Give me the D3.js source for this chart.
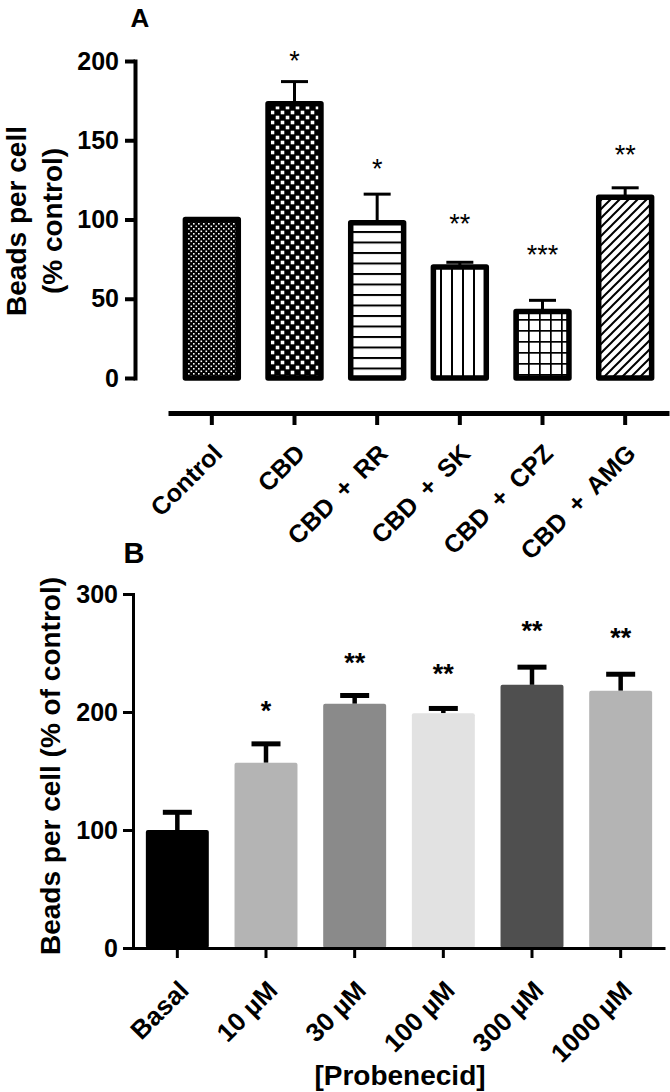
<!DOCTYPE html>
<html><head><meta charset="utf-8">
<script src="https://cdn.jsdelivr.net/npm/d3@7"></script>
<style>
body{margin:0;background:#fff}
svg{display:block}
text{font-family:"Liberation Sans",Arial,sans-serif;fill:#000}
</style>
</head><body>
<svg id="chart" width="670" height="1092"></svg>
<script>
// ---------- Data ----------
const categoriesA = ["Control", "CBD", "CBD + RR", "CBD + SK", "CBD + CPZ", "CBD + AMG"];
const meansA = [100, 173, 98, 70, 42, 114];
const semA = [0, 14, 18, 3, 7, 6];
const sigA = ["", "*", "*", "**", "***", "**"];
const sigLevelA = [null, 204, 136, 101, 82, 145];
const ticksA = [0, 50, 100, 150, 200];

const categoriesB = ["Basal", "10 µM", "30 µM", "100 µM", "300 µM", "1000 µM"];
const meansB = [100, 157, 207, 199, 223, 218];
const semB = [15, 16, 7, 4, 15, 14];
const sigB = ["", "*", "**", "**", "**", "**"];
const sigLevelB = [null, 206, 247, 238, 274, 268];
const ticksB = [0, 100, 200, 300];

// ---------- Styles ----------
const patternIdsA = ["pFine", "pChecker", "pHLines", "pVLines", "pGrid", "pDiag"];
const fillsB = ["#000000", "#b4b4b4", "#8a8a8a", "#e2e2e2", "#4f4f4f", "#b4b4b4"];

const svg = d3.select("#chart");
svg.append("rect").attr("width", 670).attr("height", 1092).attr("fill", "#fff");
const defs = svg.append("defs");

function pat(id, w, h) {
  return defs.append("pattern").attr("id", id).attr("patternUnits", "userSpaceOnUse")
    .attr("width", w).attr("height", h);
}
// fine checker
let p = pat("pFine", 5, 5);
p.append("rect").attr("width", 5).attr("height", 5).attr("fill", "#000");
p.append("rect").attr("x", 0.5).attr("y", 0.5).attr("width", 1.6).attr("height", 1.6).attr("fill", "#fff");
p.append("rect").attr("x", 3.0).attr("y", 3.0).attr("width", 1.6).attr("height", 1.6).attr("fill", "#fff");
// coarse checker
p = pat("pChecker", 10, 10);
p.append("rect").attr("width", 10).attr("height", 10).attr("fill", "#000");
p.append("rect").attr("x", 0.7).attr("y", 0.7).attr("width", 3.6).attr("height", 3.6).attr("fill", "#fff");
p.append("rect").attr("x", 5.7).attr("y", 5.7).attr("width", 3.6).attr("height", 3.6).attr("fill", "#fff");
// horizontal lines
p = pat("pHLines", 10, 10.5);
p.append("rect").attr("width", 10).attr("height", 10.5).attr("fill", "#fff");
p.append("rect").attr("y", 0).attr("width", 10).attr("height", 2).attr("fill", "#000");
// vertical lines
p = pat("pVLines", 11, 10);
p.append("rect").attr("width", 11).attr("height", 10).attr("fill", "#fff");
p.append("rect").attr("x", 0).attr("width", 2).attr("height", 10).attr("fill", "#000");
// grid
p = pat("pGrid", 11, 11);
p.append("rect").attr("width", 11).attr("height", 11).attr("fill", "#fff");
p.append("rect").attr("width", 1.7).attr("height", 11).attr("fill", "#000");
p.append("rect").attr("width", 11).attr("height", 1.7).attr("fill", "#000");
// diagonal
p = pat("pDiag", 9, 9);
p.append("rect").attr("width", 9).attr("height", 9).attr("fill", "#fff");
p.append("path").attr("d", "M0,9L9,0M-2,2L2,-2M7,11L11,7").attr("stroke", "#000").attr("stroke-width", 2);

const FONT_TICK = 25;

// ---------- Panel A ----------
const yA = d3.scaleLinear().domain([0, 200]).range([378, 61]);
const xA = d3.scaleBand().domain(categoriesA).range([170.5, 666.5]).paddingInner(0.36).paddingOuter(0.18);

const gA = svg.append("g");
// y axis
const yAxA = gA.append("g").attr("transform", "translate(135,0)")
  .call(d3.axisLeft(yA).tickValues(ticksA).tickSize(10).tickSizeOuter(0).tickPadding(6));
yAxA.select(".domain").attr("stroke-width", 4).attr("stroke-linecap", "square");
yAxA.selectAll(".tick line").attr("stroke-width", 4);
yAxA.selectAll("text").attr("font-size", FONT_TICK).attr("font-weight", "bold").attr("font-family", null);

// x axis (detached)
const xAxA = gA.append("g").attr("transform", "translate(0,413)")
  .call(d3.axisBottom(xA).tickSize(12).tickSizeOuter(0));
xAxA.select(".domain").attr("stroke-width", 5).attr("stroke-linecap", "square");
xAxA.selectAll(".tick line").attr("stroke-width", 4);
xAxA.selectAll("text").attr("font-size", 25).attr("font-weight", "bold").attr("font-family", null)
  .style("word-spacing", "5px")
  .attr("x", 0).attr("y", 0).attr("dy", null)
  .attr("transform", "translate(12,42) rotate(-45)").style("text-anchor", "end");

// error bars A
categoriesA.forEach((c, i) => {
  if (!semA[i]) return;
  const cx = xA(c) + xA.bandwidth() / 2;
  gA.append("line").attr("x1", cx).attr("x2", cx).attr("y1", yA(meansA[i])).attr("y2", yA(meansA[i] + semA[i]))
    .attr("stroke", "#000").attr("stroke-width", 3);
  gA.append("line").attr("x1", cx - 13.5).attr("x2", cx + 13.5)
    .attr("y1", yA(meansA[i] + semA[i])).attr("y2", yA(meansA[i] + semA[i]))
    .attr("stroke", "#000").attr("stroke-width", 3);
});
// bars A
gA.selectAll("rect.barA").data(categoriesA).join("rect").attr("class", "barA")
  .attr("x", d => xA(d)).attr("width", xA.bandwidth())
  .attr("y", (d, i) => yA(meansA[i])).attr("height", (d, i) => yA(0) - yA(meansA[i]))
  .attr("fill", (d, i) => `url(#${patternIdsA[i]})`)
  .attr("stroke", "#000").attr("stroke-width", 5.5).attr("stroke-linejoin", "round");
// significance A
const FS_STAR = 27;
categoriesA.forEach((c, i) => {
  if (!sigA[i]) return;
  gA.append("text").attr("x", xA(c) + xA.bandwidth() / 2).attr("y", yA(sigLevelA[i]) + 0.575 * FS_STAR)
    .attr("text-anchor", "middle").attr("font-size", FS_STAR).text(sigA[i]);
});
// labels A
gA.append("text").attr("x", 140).attr("y", 27).attr("text-anchor", "middle")
  .attr("font-size", 26).attr("font-weight", "bold").text("A");
const ylabA = gA.append("text").attr("transform", "translate(0,221) rotate(-90)")
  .attr("text-anchor", "middle").attr("font-size", 28).attr("font-weight", "bold");
ylabA.append("tspan").attr("x", 0).attr("y", 26).text("Beads per cell");
ylabA.append("tspan").attr("x", 0).attr("y", 62).text("(% control)");

// ---------- Panel B ----------
const yB = d3.scaleLinear().domain([0, 300]).range([948, 594]);
const xB = d3.scaleBand().domain(categoriesB).range([133, 665]).paddingInner(0.29).paddingOuter(0.145);
const gB = svg.append("g");

// error bars B
categoriesB.forEach((c, i) => {
  const cx = xB(c) + xB.bandwidth() / 2;
  gB.append("line").attr("x1", cx).attr("x2", cx).attr("y1", yB(meansB[i])).attr("y2", yB(meansB[i] + semB[i]))
    .attr("stroke", "#000").attr("stroke-width", 4.5);
  gB.append("line").attr("x1", cx - 14.5).attr("x2", cx + 14.5)
    .attr("y1", yB(meansB[i] + semB[i])).attr("y2", yB(meansB[i] + semB[i]))
    .attr("stroke", "#000").attr("stroke-width", 5);
});
// bars B
gB.selectAll("rect.barB").data(categoriesB).join("rect").attr("class", "barB")
  .attr("x", d => xB(d)).attr("width", xB.bandwidth())
  .attr("y", (d, i) => yB(meansB[i])).attr("height", (d, i) => yB(0) - yB(meansB[i]))
  .attr("rx", 2).attr("fill", (d, i) => fillsB[i]);

const yAxB = gB.append("g").attr("transform", "translate(133,0)")
  .call(d3.axisLeft(yB).tickValues(ticksB).tickSize(10).tickSizeOuter(0).tickPadding(5));
yAxB.select(".domain").attr("stroke-width", 3).attr("stroke-linecap", "square");
yAxB.selectAll(".tick line").attr("stroke-width", 3);
yAxB.selectAll("text").attr("font-size", FONT_TICK).attr("font-weight", "bold").attr("font-family", null);

const xAxB = gB.append("g").attr("transform", "translate(0,948)")
  .call(d3.axisBottom(xB).tickSize(10).tickSizeOuter(0));
xAxB.select(".domain").attr("stroke-width", 3);
xAxB.selectAll(".tick line").attr("stroke-width", 3);
xAxB.selectAll("text").attr("font-size", 26).attr("font-weight", "bold").attr("font-family", null)
  .attr("x", 0).attr("y", 0).attr("dy", null)
  .attr("transform", "translate(13,44) rotate(-45)").style("text-anchor", "end");

categoriesB.forEach((c, i) => {
  if (!sigB[i]) return;
  gB.append("text").attr("x", xB(c) + xB.bandwidth() / 2).attr("y", yB(sigLevelB[i]) + 0.575 * FS_STAR)
    .attr("text-anchor", "middle").attr("font-size", FS_STAR).attr("font-weight", "bold").text(sigB[i]);
});

gB.append("text").attr("x", 134).attr("y", 563).attr("text-anchor", "middle")
  .attr("font-size", 29).attr("font-weight", "bold").text("B");
gB.append("text").attr("transform", "translate(60,766) rotate(-90)").attr("text-anchor", "middle")
  .attr("font-size", 28).attr("font-weight", "bold").text("Beads per cell (% of control)");
gB.append("text").attr("x", 400).attr("y", 1085).attr("text-anchor", "middle")
  .attr("font-size", 28).attr("font-weight", "bold").text("[Probenecid]");
</script>
</body></html>
